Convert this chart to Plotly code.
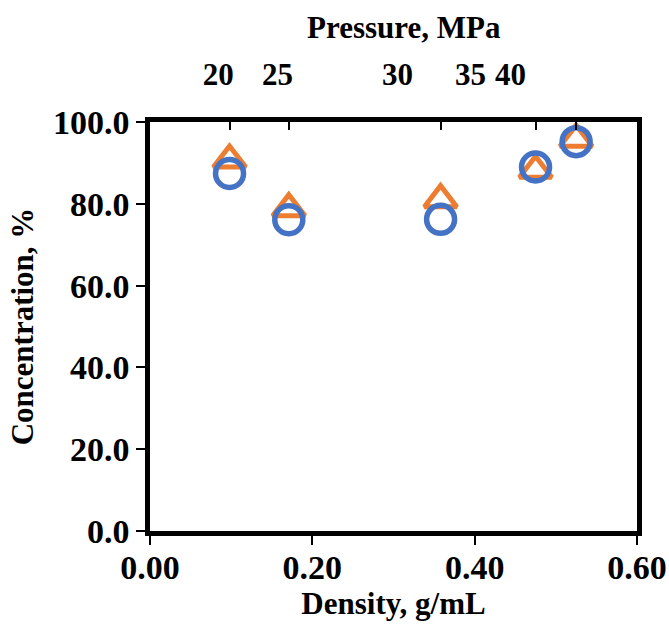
import plotly.graph_objects as go

# Data
density = [0.098, 0.171, 0.358, 0.475, 0.525]          # g/mL
conc_triangle = [90.7, 78.8, 81.0, 88.2, 95.8]          # %
conc_circle = [87.4, 76.1, 76.2, 89.0, 95.2]            # %

pressure_labels = ["20", "25", "30", "35", "40"]        # MPa
pressure_label_density = [0.084, 0.157, 0.305, 0.395, 0.444]

x_ticks = [0.0, 0.2, 0.4, 0.6]
y_ticks = [0, 20, 40, 60, 80, 100]

ORANGE = "#ED7D31"
BLUE = "#4472C4"
FAM = "Liberation Serif, Times New Roman, serif"
TICKFONT = dict(family=FAM, size=34, color="black", weight="bold")
TOPFONT = dict(family=FAM, size=31, color="black", weight="bold")
TITLEFONT = dict(family=FAM, size=31, color="black", weight="bold")

fig = go.Figure()
fig.add_trace(go.Scatter(
    x=density, y=conc_triangle, mode="markers",
    marker=dict(symbol="triangle-up-open", size=28, color=ORANGE, line=dict(width=5, color=ORANGE)),
    showlegend=False, cliponaxis=False))
fig.add_trace(go.Scatter(
    x=density, y=conc_circle, mode="markers",
    marker=dict(symbol="circle-open", size=28, color=BLUE, line=dict(width=5.5, color=BLUE)),
    showlegend=False, cliponaxis=False))
# invisible traces to activate the top axes
fig.add_trace(go.Scatter(x=density, y=conc_circle, xaxis="x2", mode="markers",
                         marker=dict(opacity=0), showlegend=False, hoverinfo="skip"))
fig.add_trace(go.Scatter(x=density, y=conc_circle, xaxis="x3", mode="markers",
                         marker=dict(opacity=0), showlegend=False, hoverinfo="skip"))

fig.update_layout(
    width=669, height=633,
    margin=dict(l=150, r=32, t=122, b=102, autoexpand=False),
    paper_bgcolor="white", plot_bgcolor="white",
    font=TICKFONT,
    xaxis=dict(
        range=[0, 0.6], tickvals=x_ticks, tickformat=".2f", automargin=False,
        ticks="outside", ticklen=9, tickwidth=2, tickcolor="black",
        showline=True, linewidth=4.5, linecolor="black", mirror=True,
        showgrid=False, zeroline=False, tickfont=TICKFONT, ticklabelstandoff=-7,
        title=dict(text="Density, g/mL", font=TITLEFONT, standoff=4),
    ),
    yaxis=dict(
        range=[0, 100], tickvals=y_ticks, tickformat=".1f", automargin=False,
        ticks="outside", ticklen=9, tickwidth=2, tickcolor="black",
        showline=True, linewidth=4.5, linecolor="black", mirror=True,
        showgrid=False, zeroline=False, tickfont=TICKFONT,
        title=dict(text="Concentration, %", font=TITLEFONT, standoff=12),
    ),
    xaxis2=dict(
        overlaying="x", side="top", range=[0, 0.6], tickvals=density, automargin=False,
        ticks="inside", ticklen=8, tickwidth=2, tickcolor="black",
        showticklabels=False, showline=False, showgrid=False, zeroline=False,
    ),
    xaxis3=dict(
        overlaying="x", side="top", range=[0, 0.6], automargin=False,
        tickvals=pressure_label_density, ticktext=pressure_labels,
        ticks="", showline=False, showgrid=False, zeroline=False,
        tickfont=TOPFONT, ticklabelstandoff=30,
    ),
    annotations=[dict(
        text="Pressure, MPa", xref="paper", yref="paper",
        x=(404 - 150) / 487, y=1, yshift=95, showarrow=False,
        xanchor="center", yanchor="middle", font=TITLEFONT,
    )],
)

fig.write_html("out.html")
